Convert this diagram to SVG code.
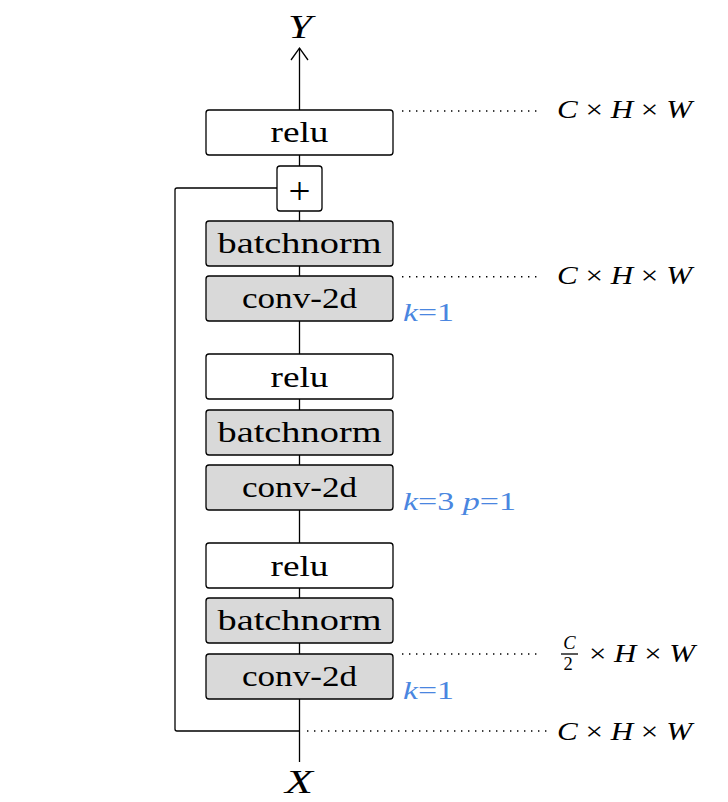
<svg xmlns="http://www.w3.org/2000/svg" width="728" height="802" viewBox="0 0 728 802">
<style>
.box{stroke:#000;stroke-width:1.3;}
.w{fill:#fff;}
.g{fill:#d9d9d9;}
.lbl{font-family:"Liberation Serif","Times New Roman",serif;font-size:29px;fill:#000;text-anchor:middle;}
.plus{font-family:"Liberation Serif","Times New Roman",serif;font-size:38px;fill:#000;text-anchor:middle;}
.math{font-family:"Liberation Serif","Times New Roman",serif;font-size:26px;fill:#000;}
.frac{font-family:"Liberation Serif","Times New Roman",serif;font-size:18.5px;fill:#000;text-anchor:middle;}
.blue{font-family:"Liberation Serif","Times New Roman",serif;font-size:26px;fill:#4a86e0;}
.conn{stroke:#000;stroke-width:1.3;fill:none;}
.dot{stroke:#000;stroke-width:1.4;fill:none;stroke-dasharray:1.4 5.6;}
.big{font-family:"Liberation Serif","Times New Roman",serif;font-size:34px;font-style:italic;fill:#000;text-anchor:middle;}
</style>
<rect width="728" height="802" fill="#fff"/>
<g id="connectors">
<path class="conn" d="M299.5 762 V48"/>
<path class="conn" d="M291 60 L299.5 48 L308 60"/>
<path class="conn" d="M299.5 731 H177 Q175 731 175 729 V190 Q175 188 177 188 H277"/>
<path class="dot" d="M402 111 H542"/>
<path class="dot" d="M402 276.7 H542"/>
<path class="dot" d="M402 654 H542"/>
<path class="dot" d="M307 731 H549"/>
</g>
<g id="relu1"><rect class="box w" x="206" y="110" width="187" height="45" rx="3"/><text class="lbl" x="299.5" y="142" textLength="58" lengthAdjust="spacingAndGlyphs">relu</text></g>
<g id="plus"><rect class="box w" x="277" y="166" width="45" height="45" rx="3"/><text class="plus" x="299.5" y="204" textLength="22" lengthAdjust="spacingAndGlyphs">+</text></g>
<g id="bn1"><rect class="box g" x="206" y="221" width="187" height="45" rx="3"/><text class="lbl" x="299.5" y="252.5" textLength="164" lengthAdjust="spacingAndGlyphs">batchnorm</text></g>
<g id="conv1"><rect class="box g" x="206" y="276" width="187" height="45" rx="3"/><text class="lbl" x="299.5" y="307.5" textLength="115" lengthAdjust="spacingAndGlyphs">conv-2d</text></g>
<g id="relu2"><rect class="box w" x="206" y="354" width="187" height="45" rx="3"/><text class="lbl" x="299.5" y="386.5" textLength="58" lengthAdjust="spacingAndGlyphs">relu</text></g>
<g id="bn2"><rect class="box g" x="206" y="410" width="187" height="45" rx="3"/><text class="lbl" x="299.5" y="441.5" textLength="164" lengthAdjust="spacingAndGlyphs">batchnorm</text></g>
<g id="conv2"><rect class="box g" x="206" y="465" width="187" height="45" rx="3"/><text class="lbl" x="299.5" y="496.5" textLength="115" lengthAdjust="spacingAndGlyphs">conv-2d</text></g>
<g id="relu3"><rect class="box w" x="206" y="543" width="187" height="45" rx="3"/><text class="lbl" x="299.5" y="575.5" textLength="58" lengthAdjust="spacingAndGlyphs">relu</text></g>
<g id="bn3"><rect class="box g" x="206" y="598" width="187" height="45" rx="3"/><text class="lbl" x="299.5" y="629.5" textLength="164" lengthAdjust="spacingAndGlyphs">batchnorm</text></g>
<g id="conv3"><rect class="box g" x="206" y="654" width="187" height="45" rx="3"/><text class="lbl" x="299.5" y="685.5" textLength="115" lengthAdjust="spacingAndGlyphs">conv-2d</text></g>
<g id="labels">
<text class="big" x="300" y="38" textLength="24" lengthAdjust="spacingAndGlyphs">Y</text>
<text class="big" x="299" y="792.5" textLength="28" lengthAdjust="spacingAndGlyphs">X</text>
<text class="blue" x="403" y="321" textLength="51" lengthAdjust="spacingAndGlyphs"><tspan font-style="italic">k</tspan>=1</text>
<text class="blue" x="403" y="509.5" textLength="113" lengthAdjust="spacingAndGlyphs"><tspan font-style="italic">k</tspan>=3 <tspan font-style="italic">p</tspan>=1</text>
<text class="blue" x="403" y="699" textLength="51" lengthAdjust="spacingAndGlyphs"><tspan font-style="italic">k</tspan>=1</text>
<text class="math" x="557" y="117.5" textLength="135" lengthAdjust="spacingAndGlyphs"><tspan font-style="italic">C</tspan> × <tspan font-style="italic">H</tspan> × <tspan font-style="italic">W</tspan></text>
<text class="math" x="557" y="283.5" textLength="135" lengthAdjust="spacingAndGlyphs"><tspan font-style="italic">C</tspan> × <tspan font-style="italic">H</tspan> × <tspan font-style="italic">W</tspan></text>
<text class="math" x="557" y="740" textLength="135" lengthAdjust="spacingAndGlyphs"><tspan font-style="italic">C</tspan> × <tspan font-style="italic">H</tspan> × <tspan font-style="italic">W</tspan></text>
<text class="frac" x="569.5" y="648.5" font-style="italic">C</text>
<path class="conn" d="M561 654 H578" stroke-width="1"/>
<text class="frac" x="568" y="670">2</text>
<text class="math" x="589" y="662" textLength="106" lengthAdjust="spacingAndGlyphs">× <tspan font-style="italic">H</tspan> × <tspan font-style="italic">W</tspan></text>
</g>
</svg>
